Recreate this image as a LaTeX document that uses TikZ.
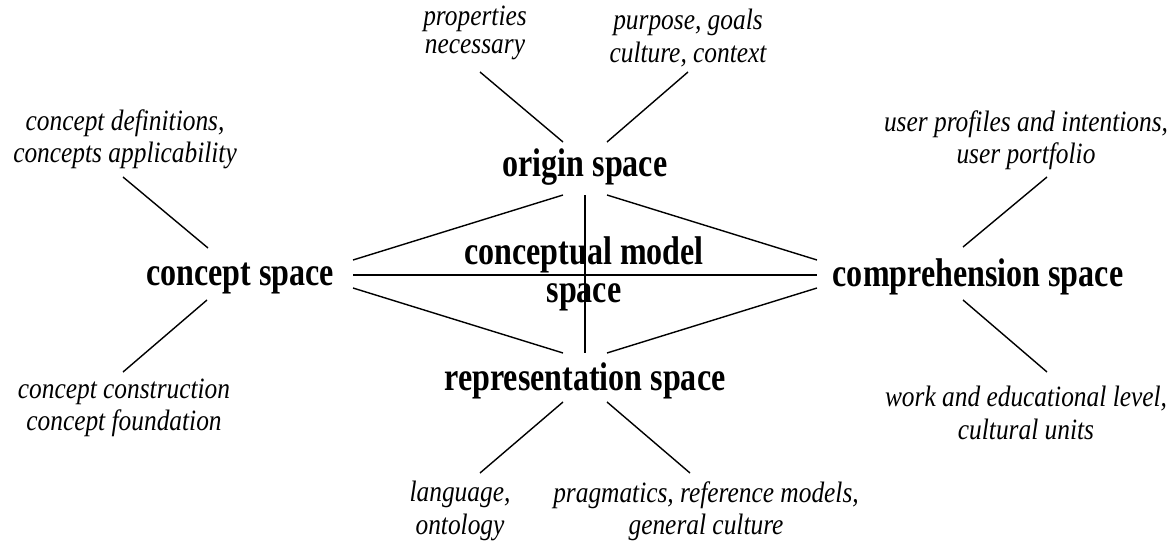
\documentclass[tikz,border=0pt]{standalone}
\usepackage{fontspec}
\setmainfont{Liberation Serif}
\newfontfamily\spacefont[FakeStretch=0.8]{Liberation Serif}
\newfontfamily\notefont[FakeStretch=0.86]{Liberation Serif}

\tikzset{
  spacelabel/.style={inner sep=0pt, align=center,
    font=\spacefont\bfseries\fontsize{22.8pt}{21.6pt}\selectfont},
  note/.style={inner sep=0pt, align=center,
    font=\notefont\itshape\fontsize{16.8pt}{18.4pt}\selectfont},
  tightnote/.style={note,
    font=\notefont\itshape\fontsize{16.8pt}{15.6pt}\selectfont},
  link/.style={line width=0.8pt}
}

\begin{document}
\begin{tikzpicture}[x=0.02cm, y=-0.02cm]
  \useasboundingbox (0,0) rectangle (1172,544);

  \coordinate (W1) at (353,260);
  \coordinate (W)  at (353,275);
  \coordinate (W2) at (353,288);
  \coordinate (E1) at (817,260);
  \coordinate (E)  at (817,275);
  \coordinate (E2) at (817,288);
  \coordinate (N1) at (563,195);
  \coordinate (N)  at (585,195);
  \coordinate (N2) at (607,195);
  \coordinate (S1) at (563,353);
  \coordinate (S)  at (585,353);
  \coordinate (S2) at (607,353);

  \draw[link] (W)--(E);
  \draw[link] (N)--(S);
  \draw[link] (W1)--(N1);
  \draw[link] (N2)--(E1);
  \draw[link] (W2)--(S1);
  \draw[link] (S2)--(E2);

  \node[spacelabel] (origin) at (585,167) {origin space};
  \node[spacelabel] (concept) at (240,278) {concept space};
  \node[spacelabel] (compr) at (978,277) {comprehension space};
  \node[spacelabel] (repr) at (585,381) {representation space};
  \node[spacelabel] (model) at (584,274) {conceptual model\\space};

  \node[tightnote] (props) at (475,33) {properties\\necessary};
  \node[note] (purpose) at (688,38) {purpose, goals\\culture, context};
  \node[note] (defs) at (125,139) {concept definitions,\\concepts applicability};
  \node[note] (constr) at (124,408) {concept construction\\concept foundation};
  \node[note] (users) at (1026,140) {user profiles and intentions,\\user portfolio};
  \node[note] (work) at (1026,413) {work and educational level,\\cultural units};
  \node[note] (lang) at (460,511) {language,\\ontology};
  \node[note] (prag) at (706,511) {pragmatics, reference models,\\general culture};

  \coordinate (o1) at (563,142);
  \coordinate (o2) at (607,142);
  \coordinate (c1) at (208,248);
  \coordinate (c2) at (207,300);
  \coordinate (m1) at (963,247);
  \coordinate (m2) at (963,300);
  \coordinate (r1) at (563,402);
  \coordinate (r2) at (607,402);

  \coordinate (props-e) at (480,72);
  \coordinate (purpose-e) at (688,72);
  \coordinate (defs-e) at (123,177);
  \coordinate (constr-e) at (123,372);
  \coordinate (users-e) at (1047,177);
  \coordinate (work-e) at (1047,372);
  \coordinate (lang-e) at (480,473);
  \coordinate (prag-e) at (690,473);

  \draw[link] (props-e) -- (o1);
  \draw[link] (purpose-e) -- (o2);
  \draw[link] (defs-e) -- (c1);
  \draw[link] (c2) -- (constr-e);
  \draw[link] (users-e) -- (m1);
  \draw[link] (m2) -- (work-e);
  \draw[link] (r1) -- (lang-e);
  \draw[link] (r2) -- (prag-e);
\end{tikzpicture}
\end{document}
